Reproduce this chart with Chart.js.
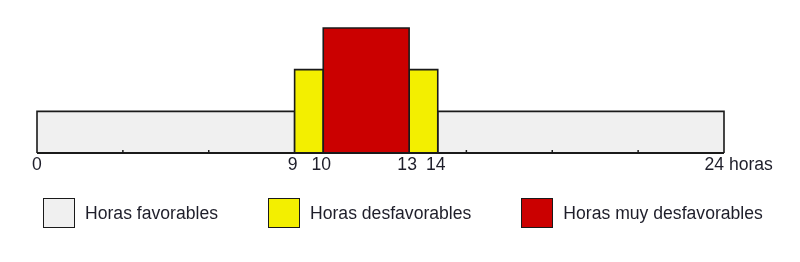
<!DOCTYPE html>
<html>
<head>
<meta charset="utf-8">
<script src="https://cdn.jsdelivr.net/npm/chart.js@4/dist/chart.umd.min.js"></script>
<style>
    body { margin: 0; background: #fff; }
    #wrap { position: relative; width: 800px; height: 262px; }
    #legend {
        position: absolute; left: 43px; top: 198px;
        display: flex; gap: 50px;
        font-family: 'Liberation Sans', Arial, sans-serif; font-size: 17.6px; color: #1e1e2a;
    }
    .item { display: flex; align-items: center; }
    .box { width: 30px; height: 28px; border: 1.6px solid #1a1a1a; margin-right: 10px; }
</style>
</head>
<body>
<div id="wrap">
    <canvas id="chart" width="800" height="262"></canvas>
    <div id="legend"></div>
</div>
<script>
// Data
const categories = ['Horas favorables', 'Horas desfavorables', 'Horas muy desfavorables'];
const levels = [1, 2, 3];
const favorableHours = [[0, 9], [14, 24]];
const unfavorableHours = [[9, 10], [13, 14]];
const veryUnfavorableHours = [[10, 13]];
const hourLabels = [0, 9, 10, 13, 14, 24];
const minorTicks = [3, 6, 15, 18, 21];
const unitLabel = 'horas';

// Colors
const fills = ['#f0f0f0', '#f3ef00', '#cb0000'];
const edge = '#1a1a1a';

// spans -> closed rectangle outline, gaps between spans
function toPoints(spans, h) {
    const pts = [];
    spans.forEach((s, i) => {
        if (i > 0) pts.push({ x: s[0], y: null });
        pts.push({ x: s[0], y: 0 }, { x: s[0], y: h }, { x: s[1], y: h }, { x: s[1], y: 0 });
    });
    return pts;
}

const spanSets = [favorableHours, unfavorableHours, veryUnfavorableHours];

const datasets = spanSets.map((spans, i) => ({
    label: categories[i],
    data: toPoints(spans, levels[i]),
    backgroundColor: fills[i],
    borderColor: edge,
    borderWidth: 1.6,
    fill: 'origin',
    pointRadius: 0,
    tension: 0,
    spanGaps: false,
    clip: false,
    order: 3 - i
}));

// axis line, small ticks and hour labels
const hourAxis = {
    id: 'hourAxis',
    afterDatasetsDraw(chart) {
        const { ctx, scales: { x, y } } = chart;
        const base = y.getPixelForValue(0);
        ctx.save();
        ctx.strokeStyle = edge;
        ctx.lineWidth = 1.8;
        ctx.beginPath();
        ctx.moveTo(x.getPixelForValue(0), base);
        ctx.lineTo(x.getPixelForValue(24), base);
        ctx.stroke();

        ctx.lineWidth = 1.5;
        minorTicks.forEach(h => {
            const px = x.getPixelForValue(h);
            ctx.beginPath();
            ctx.moveTo(px, base);
            ctx.lineTo(px, base - 3);
            ctx.stroke();
        });

        ctx.fillStyle = '#1e1e2a';
        ctx.font = "17.6px 'Liberation Sans', Arial, sans-serif";
        ctx.textBaseline = 'alphabetic';
        hourLabels.forEach((h, i) => {
            const px = x.getPixelForValue(h);
            const txt = String(h);
            if (i === hourLabels.length - 1) {
                ctx.textAlign = 'left';
                ctx.fillText(txt + ' ' + unitLabel, px - ctx.measureText(txt).width, base + 17);
            } else {
                ctx.textAlign = 'center';
                ctx.fillText(txt, px - (i === 0 ? 0 : 2), base + 17);
            }
        });
        ctx.restore();
    }
};

new Chart(document.getElementById('chart'), {
    type: 'line',
    data: { datasets: datasets },
    options: {
        responsive: false,
        animation: false,
        layout: { padding: { left: 37, right: 76, top: 28, bottom: 109 } },
        scales: {
            x: { type: 'linear', min: 0, max: 24, display: false },
            y: { min: 0, max: 3, display: false }
        },
        plugins: { legend: { display: false }, tooltip: { enabled: false } }
    },
    plugins: [hourAxis]
});

// Legend
const legend = document.getElementById('legend');
categories.forEach((name, i) => {
    const item = document.createElement('div');
    item.className = 'item';
    item.innerHTML = `<span class="box" style="background:${fills[i]}"></span><span>${name}</span>`;
    legend.appendChild(item);
});
</script>
</body>
</html>
